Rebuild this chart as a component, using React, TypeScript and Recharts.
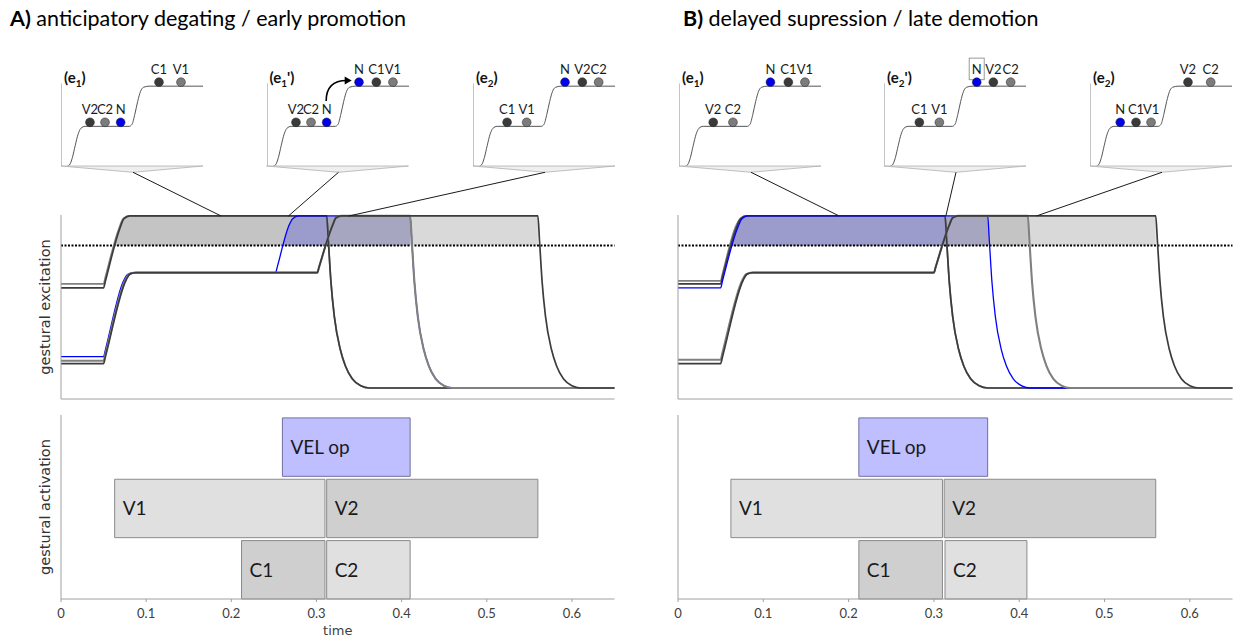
import React from 'react';
import { ComposedChart, Line, Area, Scatter, XAxis, YAxis, ReferenceArea, ReferenceLine } from 'recharts';

const FONT = 'Lato, "Open Sans", sans-serif';
const AXIS_FONT = '"DejaVu Sans", Verdana, sans-serif';
const DARK = '#3c3c3c';
const GRAY = '#808080';
const BLUE = '#0000ff';
const AXIS = '#a0a0a0';

const timeTicks = [0, 0.1, 0.2, 0.3, 0.4, 0.5, 0.6];
const threshold = 0.838;

// excitation trajectories (time, excitation), panel A
const excA_V1 = [[0, 0.629], [0.05, 0.629], [0.052, 0.664], [0.068, 0.93], [0.073, 0.985], [0.08, 1], [0.312, 1], [0.314, 0.86], [0.317, 0.64], [0.321, 0.45], [0.328, 0.27], [0.334, 0.18], [0.342, 0.11], [0.352, 0.072], [0.362, 0.06], [0.65, 0.06]];
const excA_C1 = [[0, 0.607], [0.05, 0.607], [0.052, 0.642], [0.069, 0.93], [0.074, 0.985], [0.081, 1], [0.312, 1], [0.314, 0.86], [0.317, 0.64], [0.321, 0.45], [0.328, 0.27], [0.334, 0.18], [0.342, 0.11], [0.352, 0.072], [0.362, 0.06], [0.65, 0.06]];
const excA_N = [[0, 0.231], [0.05, 0.231], [0.052, 0.266], [0.073, 0.64], [0.078, 0.68], [0.085, 0.69], [0.252, 0.69], [0.254, 0.722], [0.267, 0.94], [0.272, 0.985], [0.279, 1], [0.41, 1], [0.412, 0.86], [0.415, 0.64], [0.419, 0.45], [0.426, 0.27], [0.432, 0.18], [0.44, 0.11], [0.45, 0.072], [0.46, 0.06], [0.65, 0.06]];
const excA_C2 = [[0, 0.209], [0.05, 0.209], [0.052, 0.244], [0.0755, 0.65], [0.08, 0.682], [0.087, 0.69], [0.301, 0.69], [0.303, 0.72], [0.319, 0.95], [0.323, 0.99], [0.329, 1], [0.41, 1], [0.412, 0.86], [0.415, 0.64], [0.419, 0.45], [0.426, 0.27], [0.432, 0.18], [0.44, 0.11], [0.45, 0.072], [0.46, 0.06], [0.65, 0.06]];
const excA_V2 = [[0, 0.193], [0.05, 0.193], [0.052, 0.228], [0.0765, 0.65], [0.081, 0.682], [0.088, 0.69], [0.301, 0.69], [0.303, 0.72], [0.319, 0.95], [0.323, 0.99], [0.329, 1], [0.56, 1], [0.562, 0.86], [0.565, 0.64], [0.569, 0.45], [0.576, 0.27], [0.582, 0.18], [0.59, 0.11], [0.6, 0.072], [0.61, 0.06], [0.65, 0.06]];

// excitation trajectories, panel B
const excB_V1 = [[0, 0.645], [0.05, 0.645], [0.052, 0.68], [0.0675, 0.94], [0.073, 0.985], [0.08, 1], [0.313, 1], [0.315, 0.86], [0.318, 0.64], [0.322, 0.45], [0.329, 0.27], [0.335, 0.18], [0.343, 0.11], [0.353, 0.072], [0.363, 0.06], [0.65, 0.06]];
const excB_C1 = [[0, 0.629], [0.05, 0.629], [0.052, 0.664], [0.068, 0.93], [0.0735, 0.985], [0.08, 1], [0.313, 1], [0.315, 0.86], [0.318, 0.64], [0.322, 0.45], [0.329, 0.27], [0.335, 0.18], [0.343, 0.11], [0.353, 0.072], [0.363, 0.06], [0.65, 0.06]];
const excB_N = [[0, 0.607], [0.05, 0.607], [0.052, 0.642], [0.0695, 0.93], [0.075, 0.985], [0.082, 1], [0.363, 1], [0.365, 0.86], [0.368, 0.64], [0.372, 0.45], [0.379, 0.27], [0.385, 0.18], [0.393, 0.11], [0.403, 0.072], [0.413, 0.06], [0.65, 0.06]];
const excB_C2 = [[0, 0.214], [0.05, 0.214], [0.052, 0.25], [0.0755, 0.65], [0.08, 0.682], [0.087, 0.69], [0.3, 0.69], [0.302, 0.72], [0.318, 0.95], [0.322, 0.99], [0.328, 1], [0.41, 1], [0.412, 0.86], [0.415, 0.64], [0.419, 0.45], [0.426, 0.27], [0.432, 0.18], [0.44, 0.11], [0.45, 0.072], [0.46, 0.06], [0.65, 0.06]];
const excB_V2 = [[0, 0.193], [0.05, 0.193], [0.052, 0.228], [0.0765, 0.65], [0.081, 0.682], [0.088, 0.69], [0.3, 0.69], [0.302, 0.72], [0.318, 0.95], [0.322, 0.99], [0.328, 1], [0.56, 1], [0.562, 0.86], [0.565, 0.64], [0.569, 0.45], [0.576, 0.27], [0.582, 0.18], [0.59, 0.11], [0.6, 0.072], [0.61, 0.06], [0.65, 0.06]];

const curveNames = ['V1', 'C1', 'N', 'C2', 'V2'];
const curvesA = [excA_V1, excA_C1, excA_N, excA_C2, excA_V2];
const curvesB = [excB_V1, excB_C1, excB_N, excB_C2, excB_V2];

// supra-threshold shading, upper edge (time, excitation), painted in this order
const shadeA_late = [[0.0625, 0.838], [0.068, 0.93], [0.073, 0.985], [0.08, 1], [0.56, 1]];
const shadeA_oral = [[0.0625, 0.838], [0.068, 0.93], [0.073, 0.985], [0.08, 1], [0.313, 1]];
const shadeA_nasal = [[0.26, 0.838], [0.267, 0.94], [0.272, 0.985], [0.279, 1], [0.41, 1]];
const shadeA_mixed = [[0.313, 1], [0.41, 1]];
const shadeB_late = [[0.0625, 0.838], [0.0675, 0.94], [0.073, 0.985], [0.08, 1], [0.56, 1]];
const shadeB_oral = [[0.0625, 0.838], [0.0675, 0.94], [0.073, 0.985], [0.08, 1], [0.41, 1]];
const shadeB_mixed = [[0.0625, 0.838], [0.0675, 0.94], [0.073, 0.985], [0.08, 1], [0.364, 1]];
const shadeB_nasal = [[0.0625, 0.838], [0.0675, 0.94], [0.073, 0.985], [0.08, 1], [0.313, 1]];
const shadesA = [shadeA_late, shadeA_oral, shadeA_nasal, shadeA_mixed];
const shadeKindA = ['late', 'oral', 'nasal', 'mixed'];
const shadesB = [shadeB_late, shadeB_oral, shadeB_mixed, shadeB_nasal];
const shadeKindB = ['late', 'oral', 'mixed', 'nasal'];

// gestural activation intervals
const barNames = ['VEL op', 'V1', 'V2', 'C1', 'C2'];
const barRows = [2, 1, 1, 0, 0];
const barStartA = [0.26, 0.063, 0.312, 0.212, 0.312];
const barEndA = [0.41, 0.31, 0.56, 0.31, 0.41];
const barStartB = [0.212, 0.062, 0.312, 0.212, 0.313];
const barEndB = [0.363, 0.31, 0.56, 0.31, 0.409];

// inset step potential
const stepX = [0, 0.04, 0.06, 0.08, 0.1, 0.12, 0.14, 0.17, 0.48, 0.5, 0.52, 0.54, 0.56, 0.58, 0.62, 1];
const stepY = [0, 0, 0.04, 0.22, 0.52, 0.8, 0.95, 1, 1, 1.05, 1.3, 1.62, 1.87, 1.97, 2, 2];

// inset gestures: name, position, level
const insetA1 = [['V2', 0.204, 1], ['C2', 0.31, 1], ['N', 0.42, 1], ['C1', 0.69, 2], ['V1', 0.845, 2]];
const insetA2 = [['V2', 0.204, 1], ['C2', 0.31, 1], ['N', 0.42, 1], ['N', 0.648, 2], ['C1', 0.77, 2], ['V1', 0.887, 2]];
const insetA3 = [['C1', 0.24, 1], ['V1', 0.378, 1], ['N', 0.648, 2], ['V2', 0.77, 2], ['C2', 0.885, 2]];
const insetB1 = [['V2', 0.241, 1], ['C2', 0.38, 1], ['N', 0.644, 2], ['C1', 0.77, 2], ['V1', 0.887, 2]];
const insetB2 = [['C1', 0.249, 1], ['V1', 0.39, 1], ['N', 0.653, 2], ['V2', 0.77, 2], ['C2', 0.892, 2]];
const insetB3 = [['N', 0.213, 1], ['C1', 0.324, 1], ['V1', 0.43, 1], ['V2', 0.69, 2], ['C2', 0.85, 2]];
const insetSubsA = ['1', '1', '2'];
const insetPrimeA = [false, true, false];
const insetSubsB = ['1', '2', '2'];
const insetPrimeB = [false, true, false];

// where each inset points to on the time axis
const linkA = [0.188, 0.267, 0.338];
const linkB = [0.189, 0.314, 0.42];

const lineColor: Record<string, string> = { V1: GRAY, C1: DARK, N: BLUE, C2: GRAY, V2: DARK };
const lineWidth: Record<string, number> = { V1: 1.7, C1: 1.7, N: 1.3, C2: 2.1, V2: 1.7 };
const dotColor: Record<string, string> = { V1: '#7c7c7c', C1: '#3a3a3a', N: '#0000ee', C2: '#7c7c7c', V2: '#3a3a3a' };
const shadeColor: Record<string, string> = { oral: '#c4c4c4', nasal: '#9c9ccc', mixed: '#a6a6c1', late: '#d9d9d9' };
const barFill: Record<string, string> = { 'VEL op': '#bfbfff', V1: '#e0e0e0', V2: '#cfcfcf', C1: '#cfcfcf', C2: '#e0e0e0' };

// layout
const EXC_TOP = 200;
const ACT_TOP = 400;
const PANEL_A = { left: 0, width: 620, yAxis: 61, right: 5.5 };
const PANEL_B = { left: 618, width: 618, yAxis: 60, right: 3.5 };
const INSET_W = 142;
const INSET_TOP = 45.5;
const INSET_H = 120.5;
const INSET_BASE = 166;
const insetLeftA = [61, 266.5, 473];
const insetLeftB = [679, 884, 1090];

const plotX = (p: typeof PANEL_A, t: number) => {
  const x0 = p.left + p.yAxis;
  const w = p.width - p.yAxis - p.right;
  return x0 + (t / 0.65) * w;
};

const toPts = (arr: number[][]) => arr.map(([t, v]) => ({ t, v }));
const stepData = stepX.map((x, i) => ({ x, y: stepY[i] }));

const yLabel = (text: string) => (props: any) => {
  const vb = props.viewBox || {};
  const cx = 45;
  const cy = vb.y + vb.height / 2;
  return (
    <text x={cx} y={cy} transform={`rotate(-90 ${cx} ${cy})`} textAnchor="middle" dominantBaseline="central"
      fontSize={14.5} fill="#333" fontFamily={AXIS_FONT}>{text}</text>
  );
};

const renderDot = (props: any) => {
  const { cx, cy, payload } = props;
  return (
    <g>
      {payload.boxed && <rect x={cx - 7.5} y={cy - 24} width={15} height={21.5} fill="#fff" stroke="#9a9a9a" strokeWidth={1} />}
      <text x={cx} y={cy - 8.5} textAnchor="middle" fontSize={13} fontFamily={FONT} fill="#1a1a1a">{payload.name}</text>
      <circle cx={cx} cy={cy} r={4.4} fill={dotColor[payload.name]} stroke="#222" strokeWidth={0.5} />
    </g>
  );
};

function Inset({ left, dots, boxedIndex }: { left: number; dots: any[]; boxedIndex?: number }) {
  const data = dots.map(([name, x, level], i) => ({ x, y: level + 0.1, name, boxed: i === boxedIndex }));
  return (
    <div style={{ position: 'absolute', left, top: INSET_TOP }}>
      <ComposedChart width={INSET_W} height={INSET_H} margin={{ top: 0, right: 0, bottom: 0, left: 0 }}>
        <XAxis type="number" dataKey="x" domain={[0, 1]} hide />
        <YAxis type="number" domain={[0, 3]} hide />
        <ReferenceLine segment={[{ x: 0, y: 0 }, { x: 0, y: 2.07 }]} stroke="#8a8a8a" strokeWidth={1} />
        <ReferenceLine y={0} stroke="#8a8a8a" strokeWidth={1} />
        <Line data={stepData} dataKey="y" type="monotone" dot={false} stroke="#555" strokeWidth={1} isAnimationActive={false} />
        <Scatter data={data} dataKey="y" shape={renderDot} isAnimationActive={false} />
      </ComposedChart>
    </div>
  );
}

function Excitation({ panel, curves, shades, shadeKind, label }: any) {
  return (
    <div style={{ position: 'absolute', left: panel.left, top: EXC_TOP }}>
      <ComposedChart width={panel.width} height={210} margin={{ top: 15, right: panel.right, bottom: 1, left: 0 }}>
        <XAxis type="number" dataKey="t" domain={[0, 0.65]} ticks={timeTicks} tick={false} tickSize={3} height={10}
          stroke={AXIS} allowDataOverflow />
        <YAxis type="number" domain={[0, 1.005]} tick={false} tickLine={false} width={panel.yAxis} stroke={AXIS}
          label={label ? yLabel(label) : undefined} />
        {shades.map((s: number[][], i: number) => (
          <Area key={'s' + i} data={toPts(s)} dataKey="v" baseValue={threshold} type="monotone" stroke="none"
            fill={shadeColor[shadeKind[i]]} fillOpacity={1} isAnimationActive={false} activeDot={false} />
        ))}
        <ReferenceLine y={threshold} stroke="#000" strokeDasharray="2 1.5" strokeWidth={2} />
        {curves.map((c: number[][], i: number) => (
          <Line key={curveNames[i]} data={toPts(c)} dataKey="v" type="monotone" dot={false}
            stroke={lineColor[curveNames[i]]} strokeWidth={lineWidth[curveNames[i]]} isAnimationActive={false} />
        ))}
      </ComposedChart>
    </div>
  );
}

function Activation({ panel, starts, ends, labels }: any) {
  // interval edges, so the chart has data on its time axis
  const edges = barNames.flatMap((n, i) => [
    { t: starts[i], v: barRows[i] * 1.05 + 0.5 },
    { t: ends[i], v: barRows[i] * 1.05 + 0.5 },
  ]);
  return (
    <div style={{ position: 'absolute', left: panel.left, top: ACT_TOP }}>
      <ComposedChart width={panel.width} height={238} data={edges} margin={{ top: 15, right: panel.right, bottom: 0, left: 0 }}>
        <XAxis type="number" dataKey="t" domain={[0, 0.65]} ticks={timeTicks} tickSize={3} tickMargin={7} height={39}
          stroke={AXIS} tick={{ fontSize: 13, fill: '#404040', fontFamily: FONT }} tickFormatter={(v: number) => String(v)}
          label={labels ? { value: 'time', position: 'insideBottom', offset: 3, fontSize: 13, fill: '#404040', fontFamily: AXIS_FONT } : undefined}
          allowDataOverflow />
        <YAxis type="number" domain={[0, 3.15]} tick={false} tickLine={false} width={panel.yAxis} stroke={AXIS}
          label={labels ? yLabel('gestural activation') : undefined} />
        <Line dataKey="v" stroke="none" dot={false} activeDot={false} isAnimationActive={false} legendType="none" />
        {barNames.map((name, i) => (
          <ReferenceArea key={name} x1={starts[i]} x2={ends[i]} y1={barRows[i] * 1.05} y2={barRows[i] * 1.05 + 1}
            fill={barFill[name]} fillOpacity={1} stroke={name === 'VEL op' ? '#6f6f9f' : '#8a8a8a'} strokeWidth={1}
            label={{ value: name, position: 'insideLeft', offset: 8, fontSize: 19, fill: '#1a1a1a', fontFamily: FONT }} />
        ))}
      </ComposedChart>
    </div>
  );
}

function InsetTitle({ x, sub, prime }: { x: number; sub: string; prime: boolean }) {
  return (
    <text x={x} y={83} fontFamily={FONT} fontWeight={700} fontSize={15} fill="#111">
      (e<tspan fontSize={10} dy={4}>{sub}</tspan><tspan dy={-4}>{prime ? "')" : ')'}</tspan>
    </text>
  );
}

function Overlay() {
  const links = [
    ...insetLeftA.map((l, i) => ({ l, x: plotX(PANEL_A, linkA[i]) })),
    ...insetLeftB.map((l, i) => ({ l, x: plotX(PANEL_B, linkB[i]) })),
  ];
  const aL = insetLeftA[1];
  const sx = aL + 0.42 * INSET_W;
  const ex = aL + 0.6 * INSET_W;
  return (
    <svg width={1236} height={638} style={{ position: 'absolute', left: 0, top: 0, pointerEvents: 'none' }}>
      {links.map((k, i) => (
        <g key={i}>
          <polygon points={`${k.l},${INSET_BASE} ${k.l + INSET_W},${INSET_BASE} ${k.l + 72},${INSET_BASE + 6.3}`}
            fill="#efefef" stroke="#b0b0b0" strokeWidth={0.8} />
          <line x1={k.l + 72} y1={INSET_BASE + 6.3} x2={k.x} y2={216} stroke="#1a1a1a" strokeWidth={1} />
        </g>
      ))}
      {insetLeftA.map((l, i) => <InsetTitle key={'a' + i} x={l + 3} sub={insetSubsA[i]} prime={insetPrimeA[i]} />)}
      {insetLeftB.map((l, i) => <InsetTitle key={'b' + i} x={l + 3} sub={insetSubsB[i]} prime={insetPrimeB[i]} />)}
      <path d={`M ${sx} 101 C ${sx} 86, ${ex - 18} 80.5, ${ex - 5} 80.5`} fill="none" stroke="#000" strokeWidth={1.6} />
      <polygon points={`${ex},80.5 ${ex - 7},76.5 ${ex - 7},84.5`} fill="#000" />
    </svg>
  );
}

export default function App() {
  return (
    <div style={{ position: 'absolute', left: 0, top: 0, width: 1236, height: 638, background: '#fff', overflow: 'hidden' }}>
      <div style={{ position: 'absolute', left: 10, top: 5, fontFamily: FONT, fontSize: 21.5, color: '#000', whiteSpace: 'nowrap' }}>
        <b>A)</b> anticipatory degating / early promotion
      </div>
      <div style={{ position: 'absolute', left: 683, top: 5, fontFamily: FONT, fontSize: 21.5, color: '#000', whiteSpace: 'nowrap' }}>
        <b>B)</b> delayed supression / late demotion
      </div>

      <Inset left={insetLeftA[0]} dots={insetA1} />
      <Inset left={insetLeftA[1]} dots={insetA2} />
      <Inset left={insetLeftA[2]} dots={insetA3} />
      <Inset left={insetLeftB[0]} dots={insetB1} />
      <Inset left={insetLeftB[1]} dots={insetB2} boxedIndex={2} />
      <Inset left={insetLeftB[2]} dots={insetB3} />

      <Excitation panel={PANEL_A} curves={curvesA} shades={shadesA} shadeKind={shadeKindA} label="gestural excitation" />
      <Excitation panel={PANEL_B} curves={curvesB} shades={shadesB} shadeKind={shadeKindB} />

      <Activation panel={PANEL_A} starts={barStartA} ends={barEndA} labels />
      <Activation panel={PANEL_B} starts={barStartB} ends={barEndB} />

      <Overlay />
    </div>
  );
}
